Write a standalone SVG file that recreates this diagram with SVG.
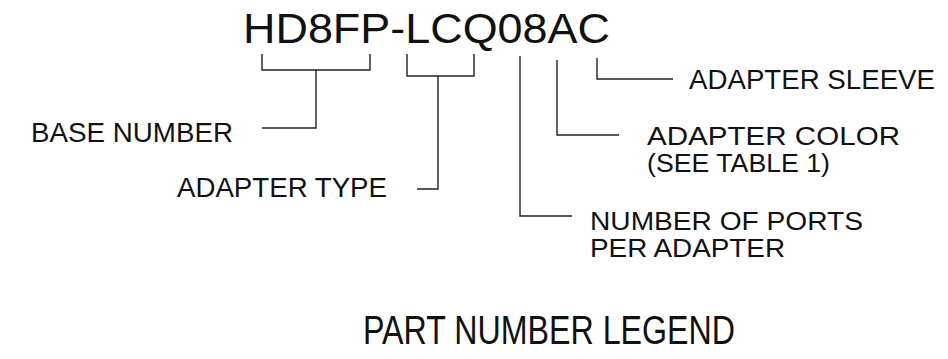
<svg xmlns="http://www.w3.org/2000/svg" width="948" height="359" viewBox="0 0 948 359">
<style>
text{font-family:"Liberation Sans",Arial,sans-serif;fill:#111;}
.t{font-size:42px;}
.l{font-size:27px;}
.m{font-size:26px;}
.c{fill:none;stroke:#222;stroke-width:1.4;}
</style>
<rect width="948" height="359" fill="#fff"/>
<g id="partnumber"><text class="t" x="243" y="43" textLength="367" lengthAdjust="spacingAndGlyphs">HD8FP-LCQ08AC</text></g>
<g id="base"><text class="l" x="31" y="142" textLength="202" lengthAdjust="spacingAndGlyphs">BASE NUMBER</text></g>
<g id="type"><text class="l" x="177" y="197" textLength="210" lengthAdjust="spacingAndGlyphs">ADAPTER TYPE</text></g>
<g id="ports"><text class="m" x="590" y="230" textLength="273" lengthAdjust="spacingAndGlyphs">NUMBER OF PORTS</text><text class="m" x="590" y="257" textLength="195" lengthAdjust="spacingAndGlyphs">PER ADAPTER</text></g>
<g id="color"><text class="m" x="647" y="145" textLength="253" lengthAdjust="spacingAndGlyphs">ADAPTER COLOR</text><text class="m" x="647" y="172" textLength="183" lengthAdjust="spacingAndGlyphs">(SEE TABLE 1)</text></g>
<g id="sleeve"><text class="l" x="689" y="89" textLength="246" lengthAdjust="spacingAndGlyphs">ADAPTER SLEEVE</text></g>
<g id="legend"><text class="t" x="363" y="344" style="font-size:40px" textLength="372" lengthAdjust="spacingAndGlyphs">PART NUMBER LEGEND</text></g>
<g id="connectors">
<path class="c" d="M262 54V70H370V54M316 70V128H262"/>
<path class="c" d="M407 54V76H474V54M438 76V189H417"/>
<path class="c" d="M520 56V216H572"/>
<path class="c" d="M557 60V135H619"/>
<path class="c" d="M597 58V79H673"/>
</g>
</svg>
